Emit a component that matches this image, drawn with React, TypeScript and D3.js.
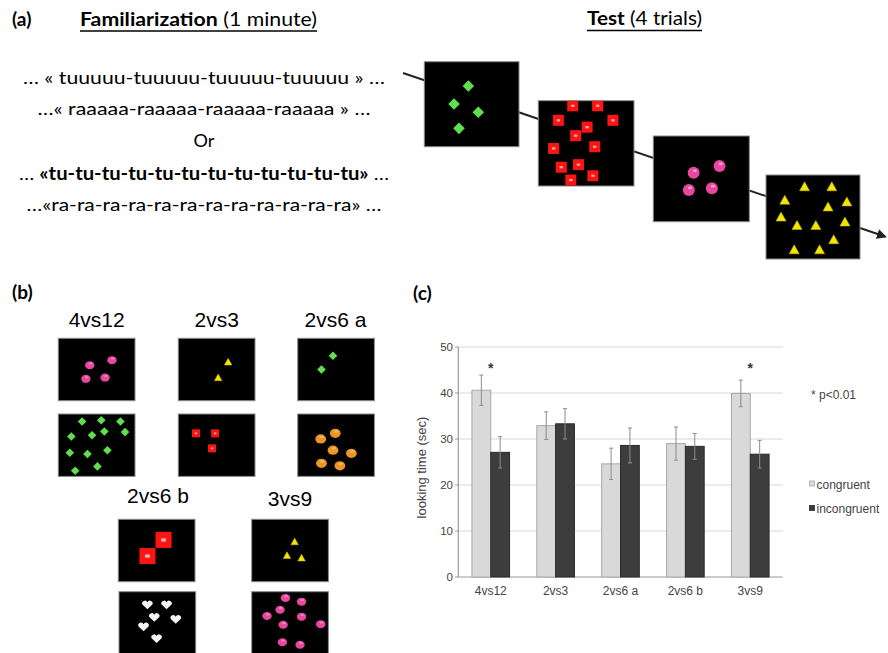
import React from 'react';
import * as d3 from 'd3';

// ---------- chart data (panel c) ----------
const categories = ['4vs12', '2vs3', '2vs6 a', '2vs6 b', '3vs9'];
const seriesNames = ['congruent', 'incongruent'];
const congruent = [40.6, 32.9, 24.6, 29.0, 39.9];
const incongruent = [27.1, 33.3, 28.6, 28.4, 26.7];
const congruentErr = [3.3, 3.0, 3.4, 3.6, 2.9];
const incongruentErr = [3.4, 3.3, 3.8, 2.8, 3.0];
const significant = ['4vs12', '3vs9'];
const yTicks = [0, 10, 20, 30, 40, 50];

// ---------- text (panel a) ----------
const familiarizationLines = [
  [{ t: '… « tuuuuu-tuuuuu-tuuuuu-tuuuuu » …', b: false }],
  [{ t: '…« raaaaa-raaaaa-raaaaa-raaaaa » …', b: false }],
  [{ t: 'Or', b: false }],
  [{ t: '… ', b: false }, { t: '«tu-tu-tu-tu-tu-tu-tu-tu-tu-tu-tu-tu»', b: true }, { t: ' …', b: false }],
  [{ t: '…«ra-ra-ra-ra-ra-ra-ra-ra-ra-ra-ra-ra» …', b: false }],
];
const bLabels = ['4vs12', '2vs3', '2vs6 a', '2vs6 b', '3vs9'];

// ---------- stimulus item positions (fractions of each picture) ----------
const trial1Diamonds = [[0.465, 0.286], [0.314, 0.498], [0.57, 0.595], [0.366, 0.784]];
const trial2Squares = [[0.36, 0.06], [0.62, 0.06], [0.21, 0.23], [0.78, 0.23], [0.51, 0.31], [0.39, 0.41], [0.16, 0.56], [0.59, 0.54], [0.24, 0.78], [0.42, 0.75], [0.34, 0.93], [0.57, 0.88]];
const trial3Circles = [[0.42, 0.43], [0.69, 0.35], [0.37, 0.63], [0.61, 0.61]];
const trial4Triangles = [[0.41, 0.14], [0.7, 0.14], [0.2, 0.3], [0.86, 0.32], [0.66, 0.38], [0.16, 0.5], [0.33, 0.6], [0.53, 0.6], [0.84, 0.56], [0.72, 0.77], [0.3, 0.89], [0.57, 0.89]];

const s4vs12Top = [[0.41, 0.43], [0.7, 0.35], [0.36, 0.65], [0.61, 0.63]];
const s4vs12Bottom = [[0.31, 0.12], [0.56, 0.1], [0.81, 0.12], [0.17, 0.36], [0.44, 0.34], [0.6, 0.28], [0.87, 0.29], [0.15, 0.62], [0.38, 0.64], [0.64, 0.58], [0.22, 0.91], [0.51, 0.84]];
const s2vs3Top = [[0.65, 0.38], [0.52, 0.63]];
const s2vs3Bottom = [[0.23, 0.31], [0.48, 0.31], [0.44, 0.55]];
const s2vs6aTop = [[0.46, 0.28], [0.31, 0.5]];
const s2vs6aBottom = [[0.49, 0.31], [0.3, 0.4], [0.46, 0.58], [0.7, 0.63], [0.31, 0.79], [0.55, 0.83]];
const s2vs6bTop = [[0.59, 0.33], [0.38, 0.59]];
const s2vs6bBottom = [[0.37, 0.21], [0.62, 0.21], [0.46, 0.41], [0.74, 0.44], [0.32, 0.56], [0.49, 0.75]];
const s3vs9Top = [[0.56, 0.36], [0.46, 0.58], [0.65, 0.62]];
const s3vs9Bottom = [[0.44, 0.1], [0.65, 0.16], [0.37, 0.29], [0.2, 0.39], [0.65, 0.4], [0.9, 0.52], [0.41, 0.53], [0.4, 0.81], [0.63, 0.85]];

// ---------- styles ----------
const GREEN = '#5ee04c';
const RED = '#ff1414';
const PINK = '#e8479e';
const YELLOW = '#f2e600';
const ORANGE = '#ec9522';
const WHITE = '#f4f4f4';

type Box = { x: number; y: number; w: number; h: number; shape: string; size: number; color: string; pts: number[][] };

const testBoxes: Box[] = [
  { x: 424.3, y: 61.7, w: 94.7, h: 85, shape: 'diamond', size: 5.8, color: GREEN, pts: trial1Diamonds },
  { x: 538.3, y: 100.7, w: 95.7, h: 85.3, shape: 'square', size: 11, color: RED, pts: trial2Squares },
  { x: 653.3, y: 136, w: 96, h: 85.7, shape: 'circle', size: 6, color: PINK, pts: trial3Circles },
  { x: 766, y: 175, w: 94, h: 84, shape: 'triangle', size: 10, color: YELLOW, pts: trial4Triangles },
];

const BW = 76.7, BH = 62.4;
const bBoxes: Box[] = [
  { x: 58.3, y: 338.3, w: BW, h: BH, shape: 'ellipse', size: 4.7, color: PINK, pts: s4vs12Top },
  { x: 58.3, y: 414, w: BW, h: BH, shape: 'diamond', size: 4.3, color: GREEN, pts: s4vs12Bottom },
  { x: 178.3, y: 338.3, w: BW, h: BH, shape: 'triangle', size: 7.5, color: YELLOW, pts: s2vs3Top },
  { x: 178.3, y: 414, w: BW, h: BH, shape: 'square', size: 8, color: RED, pts: s2vs3Bottom },
  { x: 297.7, y: 338.3, w: BW, h: BH, shape: 'diamond', size: 4.3, color: GREEN, pts: s2vs6aTop },
  { x: 297.7, y: 414, w: BW, h: BH, shape: 'ellipse', size: 5.4, color: ORANGE, pts: s2vs6aBottom },
  { x: 118.3, y: 519.3, w: BW, h: BH, shape: 'square', size: 16, color: RED, pts: s2vs6bTop },
  { x: 119, y: 591.7, w: BW, h: BH, shape: 'heart', size: 10, color: WHITE, pts: s2vs6bBottom },
  { x: 251.7, y: 519.3, w: BW, h: BH, shape: 'triangle', size: 7.5, color: YELLOW, pts: s3vs9Top },
  { x: 251.7, y: 591.7, w: BW, h: BH, shape: 'ellipse', size: 4.7, color: PINK, pts: s3vs9Bottom },
];
const bLabelPos = [[96.7, 326.5], [216.7, 326.5], [335.5, 326.5], [158, 503], [290, 506]];

function Item({ shape, x, y, s, color }: { shape: string; x: number; y: number; s: number; color: string }) {
  if (shape === 'diamond') {
    return <path d={`M${x},${y - s}L${x + s},${y}L${x},${y + s}L${x - s},${y}Z`} fill={color} />;
  }
  if (shape === 'square') {
    return (
      <g>
        <rect x={x - s / 2} y={y - s / 2} width={s} height={s} fill={color} />
        <rect x={x - s * 0.15} y={y - s * 0.1} width={s * 0.3} height={s * 0.2} fill="#f7b0b0" />
      </g>
    );
  }
  if (shape === 'circle') {
    return (
      <g>
        <circle cx={x} cy={y} r={s} fill={color} />
        <ellipse cx={x + s * 0.2} cy={y - s * 0.35} rx={s * 0.35} ry={s * 0.22} fill="#f7a3cf" />
      </g>
    );
  }
  if (shape === 'ellipse') {
    return (
      <g>
        <ellipse cx={x} cy={y} rx={s} ry={s * 0.85} fill={color} />
        <ellipse cx={x + s * 0.15} cy={y - s * 0.35} rx={s * 0.4} ry={s * 0.22} fill="#ffffff" opacity={0.35} />
      </g>
    );
  }
  if (shape === 'triangle') {
    const h = s * 0.9;
    return <path d={`M${x},${y - h * 0.55}L${x + s / 2},${y + h * 0.45}L${x - s / 2},${y + h * 0.45}Z`} fill={color} stroke="#c9b800" strokeWidth={0.5} />;
  }
  if (shape === 'heart') {
    const r = s * 0.27;
    return (
      <path
        d={`M${x},${y + s * 0.45}L${x - s * 0.5},${y - s * 0.02}A${r},${r} 0 0 1 ${x},${y - s * 0.25}A${r},${r} 0 0 1 ${x + s * 0.5},${y - s * 0.02}Z`}
        fill={color}
      />
    );
  }
  return null;
}

function StimBox({ box, id }: { box: Box; id: string }) {
  const sx = d3.scaleLinear().domain([0, 1]).range([box.x, box.x + box.w]);
  const sy = d3.scaleLinear().domain([0, 1]).range([box.y, box.y + box.h]);
  return (
    <g>
      <defs>
        <clipPath id={id}>
          <rect x={box.x} y={box.y} width={box.w} height={box.h} />
        </clipPath>
      </defs>
      <rect x={box.x} y={box.y} width={box.w} height={box.h} fill="#000" stroke="#8a8a8a" strokeWidth={1} />
      <g clipPath={`url(#${id})`}>
        {box.pts.map((p, i) => (
          <Item key={i} shape={box.shape} x={sx(p[0])} y={sy(p[1])} s={box.size} color={box.color} />
        ))}
      </g>
    </g>
  );
}

export default function App() {
  const calibri = 'Lato, "Open Sans", sans-serif';
  const arial = '"Liberation Sans", Arial, sans-serif';

  // chart scales
  const x0 = d3.scaleBand<string>().domain(categories).range([458.3, 782.7]).paddingInner(0.42).paddingOuter(0.21);
  const x1 = d3.scaleBand<string>().domain(seriesNames).range([0, x0.bandwidth()]);
  const y = d3.scaleLinear().domain([0, 50]).range([577, 347]);
  const series = [
    { name: 'congruent', values: congruent, errs: congruentErr, fill: '#d9d9d9', stroke: '#a8a8a8' },
    { name: 'incongruent', values: incongruent, errs: incongruentErr, fill: '#3d3d3d', stroke: '#2a2a2a' },
  ];
  const lineWidths = [362, 333, 0, 370, 355];
  const lineBaselines = [84, 115, 147, 180, 211];

  return (
    <svg width={888} height={653} style={{ position: 'absolute', left: 0, top: 0, background: '#fff' }}>
      <defs>
        <marker id="arrow" viewBox="0 0 10 10" refX="8" refY="5" markerWidth="5" markerHeight="5" orient="auto">
          <path d="M0,0L10,5L0,10Z" fill="#222" />
        </marker>
      </defs>

      {/* Panel a */}
      <text x={12} y={26} fontFamily={calibri} fontWeight="bold" fontSize={19}>(a)</text>
      <text x={80} y={26} fontFamily={calibri} fontSize={19} textLength={237} lengthAdjust="spacingAndGlyphs">
        <tspan fontWeight="bold">Familiarization</tspan>
        <tspan> (1 minute)</tspan>
      </text>
      <line x1={80} x2={317} y1={31} y2={31} stroke="#000" strokeWidth={1.3} />
      <text x={587} y={25} fontFamily={calibri} fontSize={19} textLength={115} lengthAdjust="spacingAndGlyphs">
        <tspan fontWeight="bold">Test</tspan>
        <tspan> (4 trials)</tspan>
      </text>
      <line x1={587} x2={702} y1={30.5} y2={30.5} stroke="#000" strokeWidth={1.3} />

      {familiarizationLines.map((parts, i) => (
        <text
          key={i}
          x={204}
          y={lineBaselines[i]}
          textAnchor="middle"
          fontFamily={calibri}
          fontSize={18}
          {...(lineWidths[i] ? { textLength: lineWidths[i], lengthAdjust: 'spacingAndGlyphs' } : {})}
        >
          {parts.map((p, j) => (
            <tspan key={j} fontWeight={p.b ? 'bold' : 'normal'}>{p.t}</tspan>
          ))}
        </text>
      ))}

      <line x1={403} y1={73} x2={885} y2={236.5} stroke="#222" strokeWidth={2} markerEnd="url(#arrow)" />
      {testBoxes.map((b, i) => (
        <StimBox key={i} box={b} id={`ta${i}`} />
      ))}

      {/* Panel b */}
      <text x={12} y={299} fontFamily={calibri} fontWeight="bold" fontSize={19}>(b)</text>
      {bLabels.map((l, i) => (
        <text key={l} x={bLabelPos[i][0]} y={bLabelPos[i][1]} textAnchor="middle" fontFamily={arial} fontSize={21}>{l}</text>
      ))}
      {bBoxes.map((b, i) => (
        <StimBox key={i} box={b} id={`tb${i}`} />
      ))}

      {/* Panel c */}
      <text x={413} y={300} fontFamily={calibri} fontWeight="bold" fontSize={19}>(c)</text>
      <g fontFamily={arial}>
        {yTicks.map((t) => (
          <g key={t}>
            {t > 0 && <line x1={458.3} x2={782.7} y1={y(t)} y2={y(t)} stroke="#d8d8d8" strokeWidth={1} />}
            <line x1={455} x2={458.3} y1={y(t)} y2={y(t)} stroke="#999" />
            <text x={453} y={y(t) + 4} textAnchor="end" fontSize={11.5} fill="#444">{t}</text>
          </g>
        ))}
        <line x1={458.3} x2={458.3} y1={y(50)} y2={y(0)} stroke="#9a9a9a" strokeWidth={1.2} />
        <line x1={458.3} x2={782.7} y1={y(0)} y2={y(0)} stroke="#9a9a9a" strokeWidth={1.2} />

        {categories.map((c, ci) => (
          <g key={c}>
            {series.map((s) => {
              const bx = (x0(c) as number) + (x1(s.name) as number);
              const bw = x1.bandwidth();
              const v = s.values[ci];
              const e = s.errs[ci];
              const cx = bx + bw / 2;
              return (
                <g key={s.name}>
                  <rect x={bx} y={y(v)} width={bw} height={y(0) - y(v)} fill={s.fill} stroke={s.stroke} strokeWidth={1} />
                  <line x1={cx} x2={cx} y1={y(v + e)} y2={y(v - e)} stroke="#8c8c8c" strokeWidth={1} />
                  <line x1={cx - 2} x2={cx + 2} y1={y(v + e)} y2={y(v + e)} stroke="#8c8c8c" strokeWidth={1} />
                  <line x1={cx - 2} x2={cx + 2} y1={y(v - e)} y2={y(v - e)} stroke="#8c8c8c" strokeWidth={1} />
                </g>
              );
            })}
            <text x={(x0(c) as number) + x0.bandwidth() / 2} y={595} textAnchor="middle" fontSize={12} fill="#444">{c}</text>
            {significant.includes(c) && (
              <text x={(x0(c) as number) + x0.bandwidth() / 2} y={y(46) + 8} textAnchor="middle" fontSize={14} fontWeight="bold" fill="#333">*</text>
            )}
          </g>
        ))}

        <text x={0} y={0} transform="translate(426,467.5) rotate(-90)" textAnchor="middle" fontSize={13} fill="#444">looking time (sec)</text>

        <text x={811} y={399} fontSize={12} fill="#444">* p&lt;0.01</text>
        {series.map((s, i) => (
          <g key={s.name}>
            <rect x={809.5} y={481 + i * 24.5} width={5} height={5} fill={s.fill} stroke={s.stroke} strokeWidth={0.8} />
            <text x={816.5} y={488.5 + i * 24} fontSize={12} fill="#444">{s.name}</text>
          </g>
        ))}
      </g>
    </svg>
  );
}
